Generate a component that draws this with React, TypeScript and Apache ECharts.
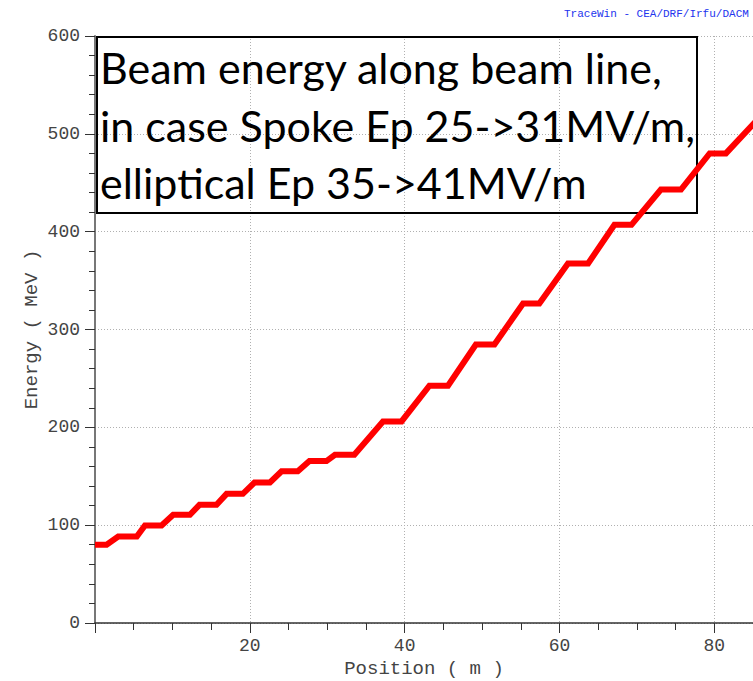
import React, { useEffect, useRef } from "react";
import * as echarts from "echarts";

const positions = [
  0, 1.5, 3.0, 5.4, 6.45, 8.6, 10.1, 12.26, 13.5, 15.7, 17.0, 19.1, 20.6,
  22.6, 24.1, 26.2, 27.7, 29.9, 31.0, 33.5, 37.2, 39.6, 43.2, 45.6, 49.2,
  51.6, 55.3, 57.4, 61.1, 63.7, 67.1, 69.3, 73.1, 75.7, 79.4, 81.5, 85.5,
];
const energies = [
  80, 80, 88.4, 88.4, 99.6, 99.6, 110.6, 110.6, 120.8, 120.8, 132, 132, 143.6,
  143.6, 155, 155, 165.5, 165.5, 172, 172, 206, 206, 242.6, 242.6, 284.6,
  284.6, 326.6, 326.6, 367.5, 367.5, 407, 407, 443, 443, 480, 480, 514,
];
const xTickInterval = 20;
const yTickInterval = 100;
const xMax = 85;
const yMax = 600;
const titleLines = [
  "Beam energy along beam line,",
  "in case Spoke Ep 25->31MV/m,",
  "elliptical Ep 35->41MV/m",
];
const watermark = "TraceWin - CEA/DRF/Irfu/DACM";
const xName = "Position ( m )";
const yName = "Energy ( MeV )";

export default function App() {
  const ref = useRef<HTMLDivElement>(null);
  useEffect(() => {
    if (!ref.current) return;
    const chart = echarts.init(ref.current, undefined, { renderer: "svg" });
    const monoFont = "Liberation Mono";
    const lineMiddles = [67.5, 125, 182.5];
    chart.setOption({
      animation: false,
      backgroundColor: "#ffffff",
      grid: {
        left: 95,
        top: 36,
        right: 0,
        bottom: 58,
        containLabel: false,
        outerBoundsMode: "none",
      },
      xAxis: {
        type: "value",
        min: 0,
        max: xMax,
        interval: xTickInterval,
        name: xName,
        nameLocation: "middle",
        nameGap: 36,
        nameMoveOverlap: false,
        nameTextStyle: { fontFamily: monoFont, fontSize: 19, color: "#444" },
        axisLine: { show: true, lineStyle: { color: "#333", width: 1.5 } },
        axisTick: { show: true, inside: false, length: 10, lineStyle: { color: "#333" } },
        minorTick: { show: true, splitNumber: 4, length: 7, lineStyle: { color: "#333" } },
        axisLabel: {
          showMinLabel: false,
          showMaxLabel: false,
          margin: 14,
          fontFamily: monoFont,
          fontSize: 18,
          color: "#444",
        },
        splitLine: { show: true, lineStyle: { color: "#b0b0b0", type: [1, 2], width: 1 } },
      },
      yAxis: {
        type: "value",
        min: 0,
        max: yMax,
        interval: yTickInterval,
        name: yName,
        nameLocation: "middle",
        nameGap: 54,
        nameMoveOverlap: false,
        nameTextStyle: { fontFamily: monoFont, fontSize: 19, color: "#444" },
        axisLine: { show: true, lineStyle: { color: "#777", width: 2 } },
        axisTick: { show: true, inside: false, length: 10, lineStyle: { color: "#333" } },
        minorTick: { show: true, splitNumber: 5, length: 6, lineStyle: { color: "#333" } },
        axisLabel: { margin: 15, fontFamily: monoFont, fontSize: 18, color: "#444" },
        splitLine: { show: true, lineStyle: { color: "#b0b0b0", type: [1, 2], width: 1 } },
      },
      series: [
        {
          type: "line",
          data: positions.map((p, i) => [p, energies[i]]),
          showSymbol: false,
          symbol: "none",
          lineStyle: { color: "#ff0000", width: 6, join: "miter" },
          clip: true,
          z: 5,
        },
      ],
      graphic: [
        {
          type: "text",
          left: 564,
          top: 8,
          style: {
            text: watermark,
            font: "11px 'Liberation Mono'",
            fill: "#2233ee",
          },
          z: 100,
        },
        {
          type: "rect",
          shape: { x: 97, y: 37, width: 600, height: 176 },
          style: { fill: "none", stroke: "#000000", lineWidth: 2 },
          z: 1,
        },
        ...titleLines.map((t, i) => ({
          type: "text",
          x: 100,
          y: lineMiddles[i],
          style: {
            text: t,
            font: "43px Lato",
            fill: "#000000",
            verticalAlign: "middle",
            align: "left",
          },
          z: 1,
        })),
      ],
    });
    return () => chart.dispose();
  }, []);
  return (
    <div
      ref={ref}
      style={{ position: "fixed", left: 0, top: 0, width: 753, height: 681 }}
    />
  );
}
